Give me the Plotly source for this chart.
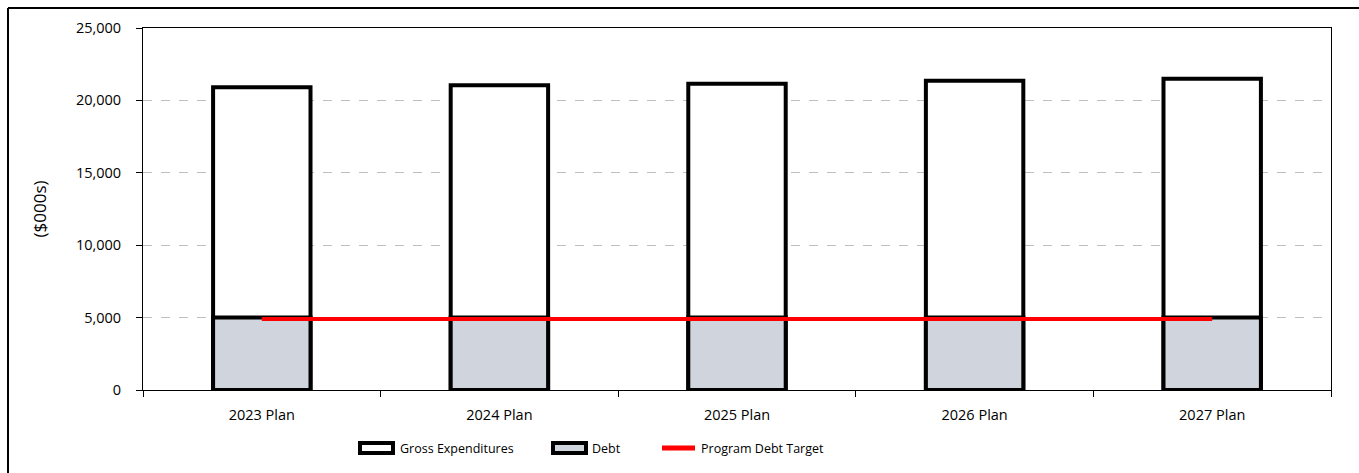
import plotly.graph_objects as go

categories = ["2023 Plan", "2024 Plan", "2025 Plan", "2026 Plan", "2027 Plan"]
gross_expenditures = [20900, 21050, 21150, 21350, 21500]
debt = [5000, 5000, 5000, 5000, 5000]
debt_target = [4900, 4900, 4900, 4900, 4900]
y_tick_values = [0, 5000, 10000, 15000, 20000, 25000]
legend_labels = ["Gross Expenditures", "Debt", "Program Debt Target"]

FONT = "Open Sans"
GROSS_FILL = "white"
DEBT_FILL = "#D0D4DC"
TARGET_COLOR = "#FF0000"

# figure geometry (pixels) used to place decorations in paper coordinates
W, H = 1359, 473
L, R, T, B = 143, 28, 28, 83
PW, PH = W - L - R, H - T - B


def px_x(x):
    return (x - L) / PW


def px_y(y):
    return (H - B - y) / PH


fig = go.Figure()
fig.add_trace(go.Bar(
    x=categories, y=gross_expenditures, name=legend_labels[0],
    marker=dict(color=GROSS_FILL, line=dict(color="black", width=4)),
))
fig.add_trace(go.Bar(
    x=categories, y=debt, name=legend_labels[1],
    marker=dict(color=DEBT_FILL, line=dict(color="black", width=4)),
))
fig.add_trace(go.Scatter(
    x=categories, y=debt_target, name=legend_labels[2], mode="lines",
    line=dict(color=TARGET_COLOR, width=4),
))

shapes = [
    # outer chart border (cropped at right and bottom in the original)
    dict(type="line", xref="paper", yref="paper", x0=px_x(8), x1=px_x(W),
         y0=px_y(8), y1=px_y(8), line=dict(color="black", width=2)),
    dict(type="line", xref="paper", yref="paper", x0=px_x(8), x1=px_x(8),
         y0=px_y(8), y1=px_y(H), line=dict(color="black", width=2)),
]

# custom legend (wide symbols as in the original)
ly = 448
legend_items = [
    ("bar", GROSS_FILL, 358, 398, legend_labels[0]),
    ("bar", DEBT_FILL, 551, 590, legend_labels[1]),
    ("line", TARGET_COLOR, 660, 699, legend_labels[2]),
]
annotations = []
for kind, color, sx, tx, label in legend_items:
    if kind == "bar":
        shapes.append(dict(type="rect", xref="paper", yref="paper",
                           x0=px_x(sx + 2), x1=px_x(sx + 35),
                           y0=px_y(ly + 5), y1=px_y(ly - 5),
                           fillcolor=color, line=dict(color="black", width=4)))
    else:
        shapes.append(dict(type="line", xref="paper", yref="paper",
                           x0=px_x(sx + 2), x1=px_x(sx + 35),
                           y0=px_y(ly), y1=px_y(ly),
                           line=dict(color=color, width=5)))
    annotations.append(dict(xref="paper", yref="paper", x=px_x(tx), y=px_y(ly),
                            xanchor="left", yanchor="middle", showarrow=False,
                            text=label, font=dict(family=FONT, size=12.5, color="black")))

fig.update_layout(
    width=W, height=H,
    margin=dict(l=L, r=R, t=T, b=B),
    paper_bgcolor="white", plot_bgcolor="white",
    barmode="overlay", bargap=0.59,
    font=dict(family=FONT, size=14.5, color="black"),
    showlegend=False,
    xaxis=dict(
        showline=True, linecolor="black", linewidth=1, mirror=True,
        ticks="outside", tickson="boundaries", ticklen=6, tickcolor="black",
        showgrid=False, tickfont=dict(size=14.5), ticklabelstandoff=12,
    ),
    yaxis=dict(
        range=[0, 25000], tickvals=y_tick_values, tickformat=",",
        showline=True, linecolor="black", linewidth=1, mirror=True,
        ticks="outside", ticklen=6, tickcolor="black",
        showgrid=True, gridcolor="#BFBFBF", griddash="dash", gridwidth=1,
        zeroline=False, tickfont=dict(size=14.5), ticklabelstandoff=12,
        title=dict(text="($000s)", font=dict(size=17), standoff=24),
    ),
    shapes=shapes,
    annotations=annotations,
)

fig.write_html("out.html")
